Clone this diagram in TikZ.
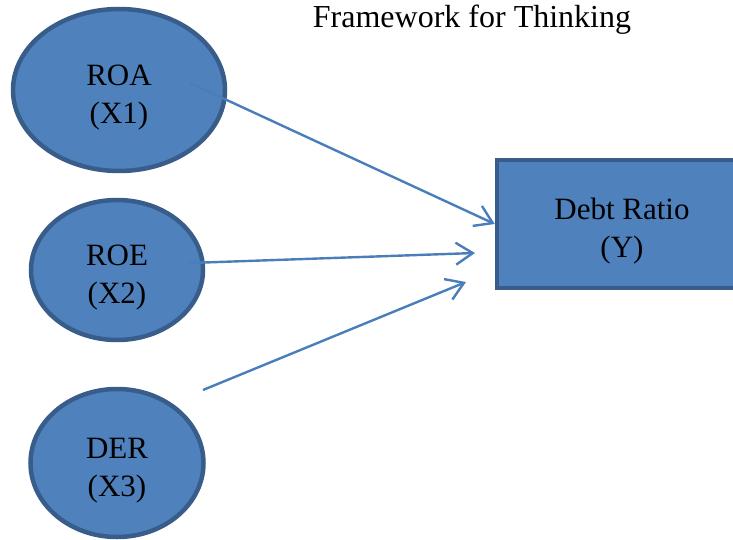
\documentclass[tikz,border=0pt]{standalone}
\usepackage{fontspec}
\setmainfont{Liberation Serif}
\usetikzlibrary{shapes.geometric,arrows.meta}
\definecolor{boxfill}{HTML}{4F81BD}
\definecolor{boxline}{HTML}{385D8A}
\definecolor{arrowc}{HTML}{4A7EBB}
\newcommand{\twoline}[2]{\raisebox{-13pt}[0pt][0pt]{\begin{tabular}{@{}c@{}}#1\\#2\end{tabular}}}
\begin{document}
\begin{tikzpicture}[x=1pt,y=-1pt,
  var/.style={ellipse, draw=boxline, fill=boxfill, line width=4.5pt, inner sep=0pt,
    font=\fontsize{31}{38}\selectfont},
  target/.style={rectangle, draw=boxline, fill=boxfill, line width=4.5pt, inner sep=0pt,
    minimum width=250pt, minimum height=128pt, font=\fontsize{31}{38}\selectfont},
  link/.style={draw=arrowc, line width=2.4pt, -{Straight Barb[length=17pt,width=22pt,line width=2.4pt]}}]
\useasboundingbox (0,0) rectangle (733,540);
\clip (0,0) rectangle (733,540);
\node[font=\fontsize{32}{38}\selectfont, anchor=base] (title) at (472,28) {Framework for Thinking};
\node[var, minimum width=212pt, minimum height=162pt] (roa) at (119,90) {\twoline{ROA}{(X1)}};
\node[var, minimum width=172pt, minimum height=140pt] (roe) at (117,270) {\twoline{ROE}{(X2)}};
\node[var, minimum width=173pt, minimum height=148pt] (der) at (117,463) {\twoline{DER}{(X3)}};
\node[target] (dr) at (622,224) {\twoline{Debt Ratio}{(Y)}};
\coordinate (s1) at (190,83);
\coordinate (s2) at (190,263);
\coordinate (s3) at (203,390);
\coordinate (e2) at (475,253);
\coordinate (e3) at (466,282);
\draw[link] (s1) -- (dr.west);
\draw[link] (s2) -- (e2);
\draw[link] (s3) -- (e3);
\end{tikzpicture}
\end{document}
